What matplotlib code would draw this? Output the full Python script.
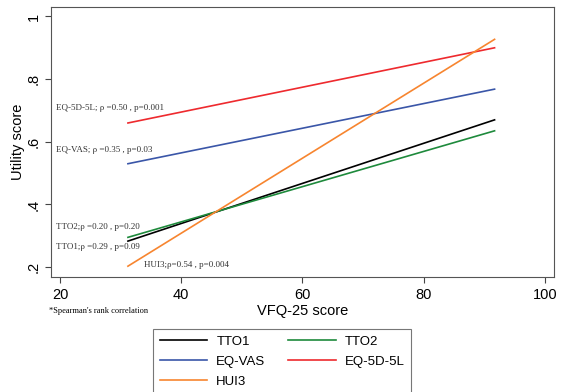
import matplotlib.pyplot as plt

# fitted lines: VFQ-25 score at both ends, utility at both ends
x_ends = [31.2, 91.7]
tto1 = [0.283, 0.670]
tto2 = [0.295, 0.635]
eqvas = [0.530, 0.768]
eq5d = [0.660, 0.900]
hui3 = [0.203, 0.927]

names = ["TTO1", "TTO2", "EQ-VAS", "EQ-5D-5L", "HUI3"]
colors = ["black", "#1e8a3c", "#3a56a8", "#ee2a2e", "#f7852f"]

notes = [
    (19.3, 0.708, "EQ-5D-5L; \u03c1 =0.50 , p=0.001"),
    (19.3, 0.574, "EQ-VAS; \u03c1 =0.35 , p=0.03"),
    (19.3, 0.327, "TTO2;\u03c1 =0.20 , p=0.20"),
    (19.3, 0.263, "TTO1;\u03c1 =0.29 , p=0.09"),
    (33.9, 0.206, "HUI3;\u03c1=0.54 , p=0.004"),
]

plt.rcParams["font.family"] = ["Liberation Sans", "DejaVu Sans"]

fig = plt.figure(figsize=(5.62, 3.92), dpi=100)
ax = fig.add_axes([0.0907, 0.293, 0.895, 0.689])

series = [tto1, tto2, eqvas, eq5d, hui3]
handles = []
for s, n, c in zip(series, names, colors):
    h, = ax.plot(x_ends, s, color=c, lw=1.2, label=n)
    handles.append(h)

for x, y, t in notes:
    ax.text(x, y, t, fontsize=6.5, family=["Liberation Serif", "DejaVu Serif"],
            va="center", ha="left", color="#333333")

ax.set_xlim(18.5, 101.5)
ax.set_ylim(0.168, 1.03)
ax.set_xticks([20, 40, 60, 80, 100])
ax.set_yticks([0.2, 0.4, 0.6, 0.8, 1.0])
ax.set_yticklabels([".2", ".4", ".6", ".8", "1"], rotation=90, va="center")
ax.tick_params(labelsize=10.5, color="#444444", length=4)
ax.set_xlabel("VFQ-25 score", fontsize=10.5, labelpad=2)
ax.set_ylabel("Utility score", fontsize=10.5, labelpad=1)
for sp in ax.spines.values():
    sp.set_color("#555555")

fig.text(0.087, 0.206, "*Spearman's rank correlation", fontsize=6,
         family=["Liberation Serif", "DejaVu Serif"], va="center")

# matplotlib fills columns first, so reorder to get rows TTO1/TTO2, EQ-VAS/EQ-5D-5L, HUI3
order = [0, 2, 4, 1, 3]
leg = fig.legend([handles[i] for i in order], [names[i] for i in order],
                 ncol=2, loc="upper center", bbox_to_anchor=(0.502, 0.178),
                 fontsize=9.5, frameon=True, fancybox=False, edgecolor="#555555",
                 handlelength=3.6, handletextpad=0.7, columnspacing=1.7,
                 borderpad=0.5, labelspacing=0.6)
leg.get_frame().set_linewidth(0.8)

fig.savefig("out.png", dpi=100)
